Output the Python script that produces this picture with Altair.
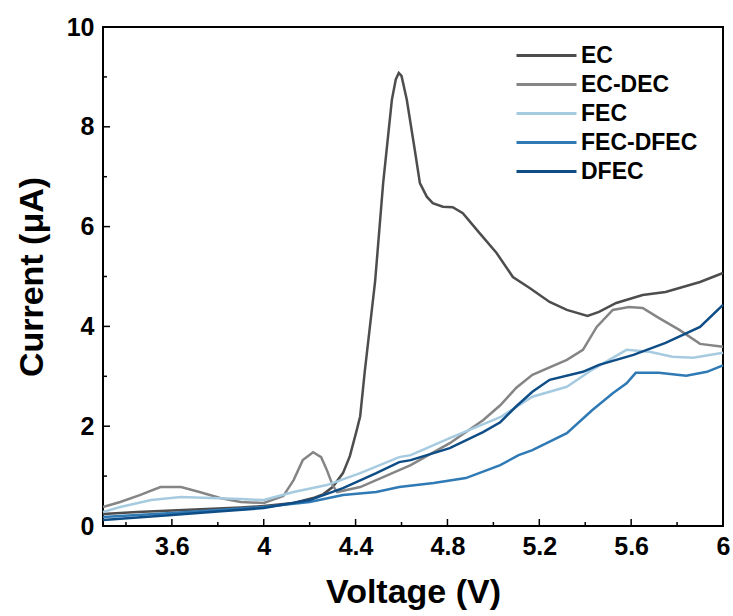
import altair as alt
import pandas as pd

# ---- data ----
series_names = ["EC", "EC-DEC", "FEC", "FEC-DFEC", "DFEC"]
series_colors = ["#4d4d4d", "#858585", "#a6cbe0", "#2f7ab5", "#0e4d86"]

ec_x = [3.30, 3.45, 3.60, 3.75, 3.90, 4.00, 4.13, 4.215, 4.26, 4.30, 4.345, 4.375, 4.405, 4.42, 4.44,
        4.46, 4.485, 4.52, 4.558, 4.575, 4.588, 4.60, 4.623, 4.658, 4.68, 4.71, 4.736, 4.78, 4.823,
        4.867, 4.94, 5.014, 5.085, 5.158, 5.245, 5.32, 5.41, 5.46, 5.535, 5.65, 5.75, 5.90, 6.00]
ec_y = [0.24, 0.28, 0.31, 0.34, 0.37, 0.40, 0.46, 0.56, 0.64, 0.78, 1.06, 1.40, 1.92, 2.20, 3.10,
        3.90, 4.90, 6.87, 8.54, 8.95, 9.08, 9.02, 8.54, 7.53, 6.87, 6.60, 6.47, 6.40, 6.39,
        6.27, 5.87, 5.47, 4.99, 4.77, 4.49, 4.33, 4.21, 4.29, 4.47, 4.63, 4.69, 4.89, 5.07]

ecdec_x = [3.30, 3.375, 3.46, 3.55, 3.64, 3.72, 3.81, 3.90, 4.00, 4.085, 4.13, 4.17, 4.215, 4.25,
           4.275, 4.30, 4.32, 4.42, 4.59, 4.64, 4.81, 4.955, 5.03, 5.10, 5.17, 5.32, 5.39, 5.45,
           5.52, 5.59, 5.65, 5.72, 5.81, 5.90, 6.00]
ecdec_y = [0.38, 0.48, 0.62, 0.78, 0.78, 0.68, 0.56, 0.48, 0.46, 0.60, 0.92, 1.32, 1.48, 1.38,
           1.12, 0.82, 0.68, 0.78, 1.12, 1.22, 1.66, 2.12, 2.42, 2.77, 3.03, 3.33, 3.53, 3.99,
           4.33, 4.39, 4.37, 4.17, 3.93, 3.65, 3.59]

fec_x = [3.30, 3.375, 3.51, 3.64, 3.77, 3.90, 4.00, 4.13, 4.275, 4.42, 4.59, 4.64, 4.81, 5.03,
         5.17, 5.32, 5.43, 5.58, 5.68, 5.78, 5.87, 6.00]
fec_y = [0.28, 0.38, 0.52, 0.58, 0.56, 0.54, 0.52, 0.68, 0.82, 1.06, 1.38, 1.42, 1.76, 2.18,
         2.59, 2.79, 3.13, 3.53, 3.49, 3.39, 3.37, 3.47]

fecdfec_x = [3.30, 3.45, 3.60, 3.80, 4.00, 4.20, 4.345, 4.49, 4.59, 4.74, 4.88, 5.03, 5.11, 5.17,
             5.32, 5.43, 5.52, 5.58, 5.62, 5.72, 5.84, 5.93, 6.00]
fecdfec_y = [0.18, 0.22, 0.26, 0.32, 0.38, 0.48, 0.62, 0.68, 0.78, 0.86, 0.96, 1.22, 1.42, 1.52,
             1.86, 2.32, 2.66, 2.86, 3.07, 3.07, 3.01, 3.09, 3.22]

dfec_x = [3.30, 3.45, 3.60, 3.80, 4.00, 4.20, 4.345, 4.49, 4.59, 4.64, 4.81, 4.955, 5.03, 5.10,
          5.17, 5.245, 5.39, 5.46, 5.61, 5.75, 5.90, 6.00]
dfec_y = [0.12, 0.17, 0.22, 0.29, 0.36, 0.52, 0.76, 1.06, 1.28, 1.32, 1.56, 1.88, 2.08, 2.40,
          2.69, 2.93, 3.09, 3.23, 3.43, 3.67, 3.99, 4.43]

x_major = [3.6, 4.0, 4.4, 4.8, 5.2, 5.6, 6.0]
x_minor = [3.4, 3.8, 4.2, 4.6, 5.0, 5.4, 5.8]
y_major = [0, 2, 4, 6, 8, 10]
y_minor = [1, 3, 5, 7, 9]

# ---- build tables ----
rows = []
for name, xs, ys in [("EC", ec_x, ec_y), ("EC-DEC", ecdec_x, ecdec_y), ("FEC", fec_x, fec_y),
                     ("FEC-DFEC", fecdfec_x, fecdfec_y), ("DFEC", dfec_x, dfec_y)]:
    for i, (a, b) in enumerate(zip(xs, ys)):
        rows.append({"series": name, "V": a, "I": b, "i": i})
df = pd.DataFrame(rows)

FONT = "Liberation Sans"
xscale = alt.Scale(domain=[3.3, 6.0], nice=False, zero=False)
yscale = alt.Scale(domain=[0, 10], nice=False)

xaxis = alt.Axis(title="Voltage (V)", values=x_major, format="~g", ticks=False,
                 domain=False, grid=False, labelPadding=8, titlePadding=16,
                 labelFontSize=25, titleFontSize=34, labelFont=FONT, titleFont=FONT,
                 labelFontWeight="bold", titleFontWeight="bold",
                 labelColor="black", titleColor="black", labelFlush=False)
yaxis = alt.Axis(title="Current (μA)", values=y_major, ticks=False, domain=False,
                 grid=False, labelPadding=9, titlePadding=17,
                 labelFontSize=25, titleFontSize=34, labelFont=FONT, titleFont=FONT,
                 labelFontWeight="bold", titleFontWeight="bold",
                 labelColor="black", titleColor="black")

lines = alt.Chart(df).mark_line(strokeWidth=2.5).encode(
    x=alt.X("V:Q", scale=xscale, axis=xaxis),
    y=alt.Y("I:Q", scale=yscale, axis=yaxis),
    color=alt.Color("series:N",
                    scale=alt.Scale(domain=series_names, range=series_colors),
                    legend=alt.Legend(title=None, orient="none", legendX=427, legendY=12,
                                      symbolType="M-2,0H2", symbolSize=900,
                                      symbolStrokeWidth=3, labelFontSize=23, labelFont=FONT,
                                      labelFontWeight="bold", labelColor="black",
                                      rowPadding=-1, labelOffset=18)),
    order="i:Q",
)

xmaj = alt.Chart(pd.DataFrame({"v": x_major})).mark_rule(color="black", strokeWidth=1.5).encode(
    x=alt.X("v:Q", scale=xscale, axis=xaxis), y=alt.value(499), y2=alt.value(492))
xmin = alt.Chart(pd.DataFrame({"v": x_minor})).mark_rule(color="black", strokeWidth=1.5).encode(
    x=alt.X("v:Q", scale=xscale, axis=xaxis), y=alt.value(499), y2=alt.value(495))
ymaj = alt.Chart(pd.DataFrame({"v": y_major})).mark_rule(color="black", strokeWidth=1.5).encode(
    y=alt.Y("v:Q", scale=yscale, axis=yaxis), x=alt.value(0), x2=alt.value(7))
ymin = alt.Chart(pd.DataFrame({"v": y_minor})).mark_rule(color="black", strokeWidth=1.5).encode(
    y=alt.Y("v:Q", scale=yscale, axis=yaxis), x=alt.value(0), x2=alt.value(4))

chart = alt.layer(lines, xmaj, xmin, ymaj, ymin).properties(
    width=620, height=499,
    autosize=alt.AutoSizeParams(type="none"),
    padding={"left": 103, "top": 27, "right": 10, "bottom": 90},
    background="white",
).configure_view(stroke="black", strokeWidth=2)

chart.save("out.html", embed_options={"renderer": "svg", "actions": False})
